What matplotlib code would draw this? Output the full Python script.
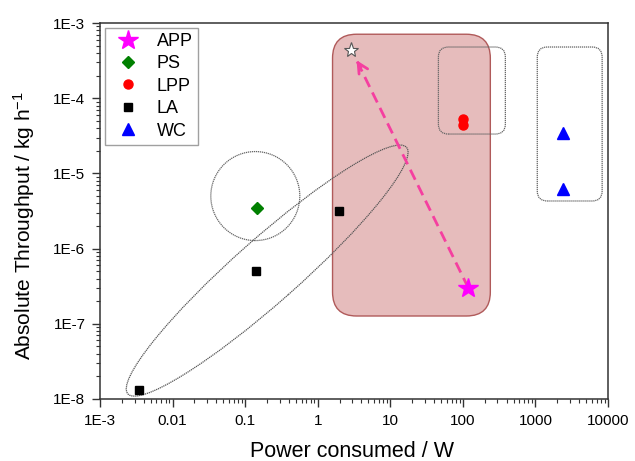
import matplotlib
matplotlib.use("Agg")
import matplotlib.pyplot as plt
from matplotlib.patches import FancyBboxPatch, Ellipse
from matplotlib.transforms import IdentityTransform

plt.rcParams['font.family'] = ['Liberation Sans', 'DejaVu Sans']
plt.rcParams['mathtext.fontset'] = 'custom'
plt.rcParams['mathtext.rm'] = 'Liberation Sans'
plt.rcParams['mathtext.default'] = 'regular'

# ---- data ----
app_x = [119]
app_y = [3.0e-7]
app_open_x = [2.84]
app_open_y = [4.4e-4]
ps_x = [0.145]
ps_y = [3.5e-6]
lpp_x = [100, 100]
lpp_y = [5.3e-5, 4.4e-5]
la_x = [0.00343, 0.14, 1.94]
la_y = [1.3e-8, 5.0e-7, 3.2e-6]
wc_x = [2400, 2400]
wc_y = [3.5e-5, 6.2e-6]
arrow_tip = (3.43, 3.2e-4)

x_ticks = [1e-3, 1e-2, 1e-1, 1, 10, 100, 1000, 10000]
x_ticklabels = ['1E-3', '0.01', '0.1', '1', '10', '100', '1000', '10000']
y_ticks = [1e-8, 1e-7, 1e-6, 1e-5, 1e-4, 1e-3]
y_ticklabels = ['1E-8', '1E-7', '1E-6', '1E-5', '1E-4', '1E-3']

# annotation regions (data coords)
red_box = (1.6, 239, 1.27e-7, 7.1e-4)
lpp_box = (46, 385, 3.34e-5, 4.8e-4)
wc_box = (1060, 8300, 4.3e-6, 4.8e-4)
ps_circle_center = (0.138, 5.0e-6)
la_ellipse_center = (0.201, 5.1e-7)

fig = plt.figure(figsize=(6.35, 4.61), dpi=100)
ax = fig.add_axes([0.1575, 0.1345, 0.8, 0.8155])
ax.set_xscale('log')
ax.set_yscale('log')
ax.set_xlim(1e-3, 1e4)
ax.set_ylim(1e-8, 1e-3)

ax.set_xticks(x_ticks)
ax.set_xticklabels(x_ticklabels)
ax.set_yticks(y_ticks)
ax.set_yticklabels(y_ticklabels)
ax.tick_params(axis='both', which='major', direction='out', length=6, width=1.0,
               labelsize=11, pad=4.5, top=False, right=False, color='#333333')
ax.tick_params(axis='both', which='minor', direction='out', length=3, width=0.8,
               top=False, right=False, color='#333333')
for s in ax.spines.values():
    s.set_linewidth(1.1)
    s.set_color('#333333')

ax.set_xlabel('Power consumed / W', fontsize=15.5)
ax.set_ylabel('Absolute Throughput / kg h$^{-1}$', fontsize=15)
ax.xaxis.set_label_coords(0.497, -0.112)
ax.yaxis.set_label_coords(-0.124, 0.46)

fig.canvas.draw()

def disp(x, y):
    return ax.transData.transform((x, y))

def rbox(b, rad, **kw):
    x0, y0 = disp(b[0], b[2])
    x1, y1 = disp(b[1], b[3])
    p = FancyBboxPatch((x0, y0), x1 - x0, y1 - y0,
                       boxstyle=f"round,pad=0,rounding_size={rad}",
                       transform=IdentityTransform(), **kw)
    ax.add_artist(p)

rbox(red_box, 24, facecolor='#e6bcbc', edgecolor='#b05a5a', linewidth=1.0, zorder=1)
rbox(lpp_box, 10, facecolor='none', edgecolor='#666666', linewidth=0.9,
     linestyle=(0, (1, 0.6)), zorder=2)
rbox(wc_box, 10, facecolor='none', edgecolor='#666666', linewidth=0.9,
     linestyle=(0, (1, 0.6)), zorder=2)

cx, cy = disp(*ps_circle_center)
ax.add_artist(Ellipse((cx, cy), 89, 89, facecolor='none', edgecolor='#666666',
                      linewidth=0.9, linestyle=(0, (1, 0.6)),
                      transform=IdentityTransform(), zorder=2))
ex, ey = disp(*la_ellipse_center)
ax.add_artist(Ellipse((ex, ey), 372, 64, angle=41.5, facecolor='none',
                      edgecolor='#555555', linewidth=0.9, linestyle=(0, (1, 0.6)),
                      transform=IdentityTransform(), zorder=2))

# arrow
pink = '#f53fa0'
ax.plot([app_x[0], arrow_tip[0]], [app_y[0], arrow_tip[1]], color=pink, lw=2.0,
        linestyle=(0, (4, 2.2)), zorder=3)
ax.annotate('', xy=arrow_tip, xytext=(arrow_tip[0] * 1.15, arrow_tip[1] * 0.8),
            arrowprops=dict(arrowstyle='->', color=pink, lw=2.0, mutation_scale=18,
                            shrinkA=0, shrinkB=0), zorder=3)

ax.plot(app_open_x, app_open_y, linestyle='none', marker='*', markersize=11,
        markerfacecolor='white', markeredgecolor='#555555', markeredgewidth=0.8, zorder=4)
ax.plot(app_x, app_y, linestyle='none', marker='*', markersize=15, color='#ff00ff',
        zorder=5, label='APP')
ax.plot(ps_x, ps_y, linestyle='none', marker='D', markersize=6, color='#008000',
        zorder=5, label='PS')
ax.plot(lpp_x, lpp_y, linestyle='none', marker='o', markersize=6.5, color='#ff0000',
        zorder=5, label='LPP')
ax.plot(la_x, la_y, linestyle='none', marker='s', markersize=6, color='#000000',
        zorder=5, label='LA')
ax.plot(wc_x, wc_y, linestyle='none', marker='^', markersize=8, color='#0000ff',
        zorder=5, label='WC')

leg = ax.legend(loc='upper left', fontsize=13, frameon=True, fancybox=False,
                edgecolor='#888888', borderaxespad=0.25, labelspacing=0.3,
                handlelength=2.0, handletextpad=0.6, borderpad=0.3, numpoints=1)
leg.get_frame().set_linewidth(1.0)

fig.savefig('out.png', dpi=100)
